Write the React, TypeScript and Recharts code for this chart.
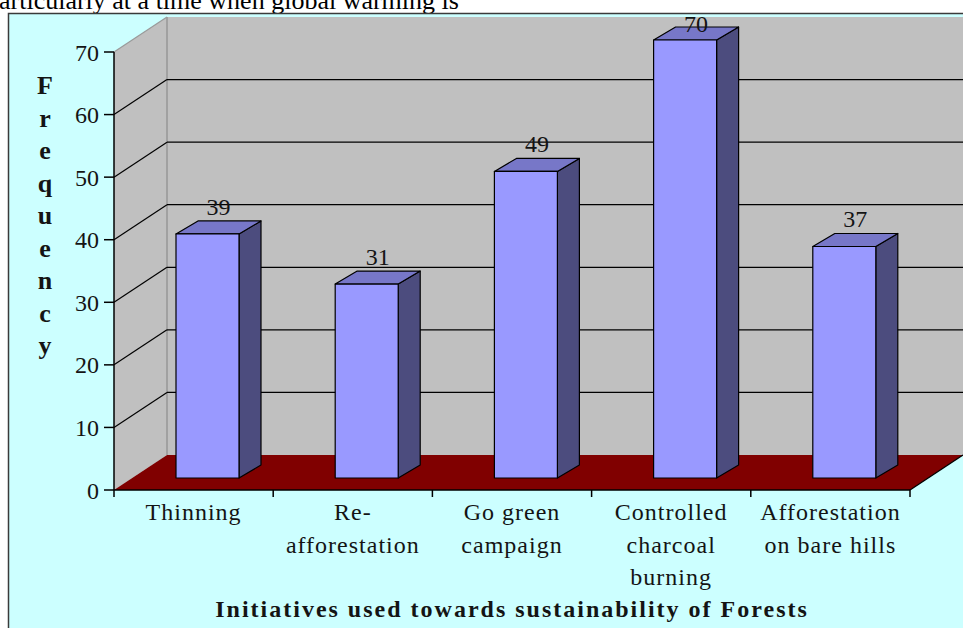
import React from 'react';
import { BarChart, Bar, XAxis, YAxis, CartesianGrid, LabelList, Label } from 'recharts';

// chart data
const categories = [
  'Thinning',
  'Re-afforestation',
  'Go green campaign',
  'Controlled charcoal burning',
  'Afforestation on bare hills',
];
const frequency = [39, 31, 49, 70, 37];
const tickLabels = [
  ['Thinning'],
  ['Re-', 'afforestation'],
  ['Go green', 'campaign'],
  ['Controlled', 'charcoal', 'burning'],
  ['Afforestation', 'on bare hills'],
];
const yTicks = [0, 10, 20, 30, 40, 50, 60, 70];
const yTitle = 'Frequency';
const xTitle = 'Initiatives used towards sustainability of Forests';
const pageText = 'articularly at a time when global warming is';

const data = categories.map((name, i) => ({ name, value: frequency[i] }));

// layout
const W = 963;
const H = 628;
const PLOT_L = 114;
const PLOT_R = 910;
const PLOT_T = 52;
const PLOT_B = 490;
const YAXIS_W = 60;
const XAXIS_H = 100;
const DEPTH_X = 53;
const DEPTH_Y = -35;
const BAND = (PLOT_R - PLOT_L) / categories.length;

// bar 3d offsets
const BAR_SHIFT_X = 14;
const BAR_SHIFT_Y = -12;
const BAR_DEPTH_X = 22;
const BAR_DEPTH_Y = -13;

const FONT = "'Liberation Serif', 'Times New Roman', serif";
const TEXT = '#141414';

const COLORS = {
  front: '#9999FF',
  top: '#7777C8',
  side: '#4C4C7E',
  wall: '#C0C0C0',
  floor: '#800000',
  page: '#CCFFFF',
};

// 3D column
const Bar3D = (props: any) => {
  const { x, y, width, height } = props;
  if (height == null || width == null) return null;
  const fx = x + BAR_SHIFT_X;
  const fy = y + BAR_SHIFT_Y;
  const dx = BAR_DEPTH_X;
  const dy = BAR_DEPTH_Y;
  return (
    <g stroke='#000' strokeWidth={1.2} strokeLinejoin='round'>
      <polygon
        points={`${fx + width},${fy} ${fx + width + dx},${fy + dy} ${fx + width + dx},${fy + height + dy} ${fx + width},${fy + height}`}
        fill={COLORS.side}
      />
      <polygon
        points={`${fx},${fy} ${fx + dx},${fy + dy} ${fx + width + dx},${fy + dy} ${fx + width},${fy}`}
        fill={COLORS.top}
      />
      <rect x={fx} y={fy} width={width} height={height} fill={COLORS.front} />
    </g>
  );
};

const renderValueLabel = (props: any) => {
  const { x, y, width, value } = props;
  const cx = x + BAR_SHIFT_X + width / 2 + BAR_DEPTH_X / 2;
  const baseline = Math.max(y - 31, 32);
  return (
    <text x={cx} y={baseline} textAnchor='middle' fontFamily={FONT} fontSize={24} fill={TEXT}>
      {value}
    </text>
  );
};

// grid lines drawn on side wall + back wall
const renderGridLine = (props: any) => {
  const { x1, y1, x2 } = props;
  const k = `grid-${Math.round(y1)}`;
  if (Math.abs(y1 - PLOT_B) < 1) return <g key={k} />;
  if (Math.abs(y1 - PLOT_T) < 1) {
    return (
      <line key={k} x1={x1} y1={y1} x2={x1 + DEPTH_X} y2={y1 + DEPTH_Y} stroke='#9a9a9a' strokeWidth={1.2} />
    );
  }
  return (
    <g key={k} stroke='#000' strokeWidth={1.2}>
      <line x1={x1} y1={y1} x2={x1 + DEPTH_X} y2={y1 + DEPTH_Y} />
      <line x1={x1 + DEPTH_X} y1={y1 + DEPTH_Y} x2={x2 + DEPTH_X} y2={y1 + DEPTH_Y} />
    </g>
  );
};

const CategoryTick = (props: any) => {
  const { x, y, index } = props;
  const lines = tickLabels[index] || [];
  const half = BAND / 2;
  return (
    <g>
      <line x1={x - half} y1={y} x2={x - half} y2={y + 7} stroke='#000' strokeWidth={1.5} />
      {index === categories.length - 1 && (
        <line x1={x + half} y1={y} x2={x + half} y2={y + 7} stroke='#000' strokeWidth={1.5} />
      )}
      <text
        x={x}
        y={y + 30}
        textAnchor='middle'
        fontFamily={FONT}
        fontSize={24}
        letterSpacing={1}
        fill={TEXT}
      >
        {lines.map((l, i) => (
          <tspan key={i} x={x} dy={i === 0 ? 0 : 32.5}>
            {l}
          </tspan>
        ))}
      </text>
    </g>
  );
};

const renderYTitle = () => (
  <text x={45} y={94} textAnchor='middle' fontFamily={FONT} fontSize={26} fontWeight='bold' fill={TEXT}>
    {yTitle.split('').map((ch, i) => (
      <tspan key={i} x={45} dy={i === 0 ? 0 : 32.5}>
        {ch}
      </tspan>
    ))}
  </text>
);

const renderXTitle = () => (
  <text
    x={(PLOT_L + PLOT_R) / 2}
    y={617}
    textAnchor='middle'
    fontFamily={FONT}
    fontSize={24}
    fontWeight='bold'
    letterSpacing={2}
    fill={TEXT}
  >
    {xTitle}
  </text>
);

function Backdrop() {
  return (
    <svg width={W} height={H} style={{ position: 'absolute', left: 0, top: 0 }}>
      <text x={-1} y={9} fontFamily={FONT} fontSize={26} fill='#000'>
        {pageText}
      </text>
      <rect x={8.5} y={13.5} width={W + 20} height={H + 20} fill={COLORS.page} stroke='#3a3a3a' strokeWidth={1.5} />
      {/* side wall */}
      <polygon
        points={`${PLOT_L},${PLOT_T} ${PLOT_L + DEPTH_X},${PLOT_T + DEPTH_Y} ${PLOT_L + DEPTH_X},${PLOT_B + DEPTH_Y} ${PLOT_L},${PLOT_B}`}
        fill={COLORS.wall}
      />
      {/* back wall */}
      <rect
        x={PLOT_L + DEPTH_X}
        y={PLOT_T + DEPTH_Y}
        width={PLOT_R - PLOT_L}
        height={PLOT_B - PLOT_T}
        fill={COLORS.wall}
      />
      <line
        x1={PLOT_L + DEPTH_X}
        y1={PLOT_T + DEPTH_Y}
        x2={PLOT_L + DEPTH_X}
        y2={PLOT_B + DEPTH_Y}
        stroke='#8c8c8c'
        strokeWidth={1.2}
      />
      {/* floor */}
      <polygon
        points={`${PLOT_L},${PLOT_B} ${PLOT_R},${PLOT_B} ${PLOT_R + DEPTH_X},${PLOT_B + DEPTH_Y} ${PLOT_L + DEPTH_X},${PLOT_B + DEPTH_Y}`}
        fill={COLORS.floor}
      />
      <line
        x1={PLOT_R}
        y1={PLOT_B}
        x2={PLOT_R + DEPTH_X}
        y2={PLOT_B + DEPTH_Y}
        stroke='#000'
        strokeWidth={1.3}
      />
    </svg>
  );
}

export default function App() {
  return (
    <div style={{ position: 'absolute', left: 0, top: 0, width: W, height: H, overflow: 'hidden' }}>
      <Backdrop />
      <div style={{ position: 'absolute', left: 0, top: 0 }}>
        <BarChart
          width={W}
          height={H}
          data={data}
          margin={{ top: PLOT_T, right: W - PLOT_R, bottom: H - PLOT_B - XAXIS_H, left: PLOT_L - YAXIS_W }}
          barSize={63}
        >
          <CartesianGrid horizontal={renderGridLine} vertical={false} />
          <XAxis
            dataKey='name'
            height={XAXIS_H}
            interval={0}
            tickLine={false}
            tickSize={0}
            tickMargin={0}
            axisLine={{ stroke: '#000', strokeWidth: 1.5 }}
            tick={<CategoryTick />}
          >
            <Label content={renderXTitle} />
          </XAxis>
          <YAxis
            type='number'
            domain={[0, 70]}
            ticks={yTicks}
            width={YAXIS_W}
            interval={0}
            tickSize={10}
            tickMargin={5}
            axisLine={{ stroke: '#000', strokeWidth: 1.5 }}
            tickLine={{ stroke: '#000', strokeWidth: 1.5 }}
            tick={{ fontFamily: FONT, fontSize: 24, fill: TEXT }}
          >
            <Label content={renderYTitle} />
          </YAxis>
          <Bar dataKey='value' shape={<Bar3D />} isAnimationActive={false}>
            <LabelList dataKey='value' content={renderValueLabel} />
          </Bar>
        </BarChart>
      </div>
    </div>
  );
}
